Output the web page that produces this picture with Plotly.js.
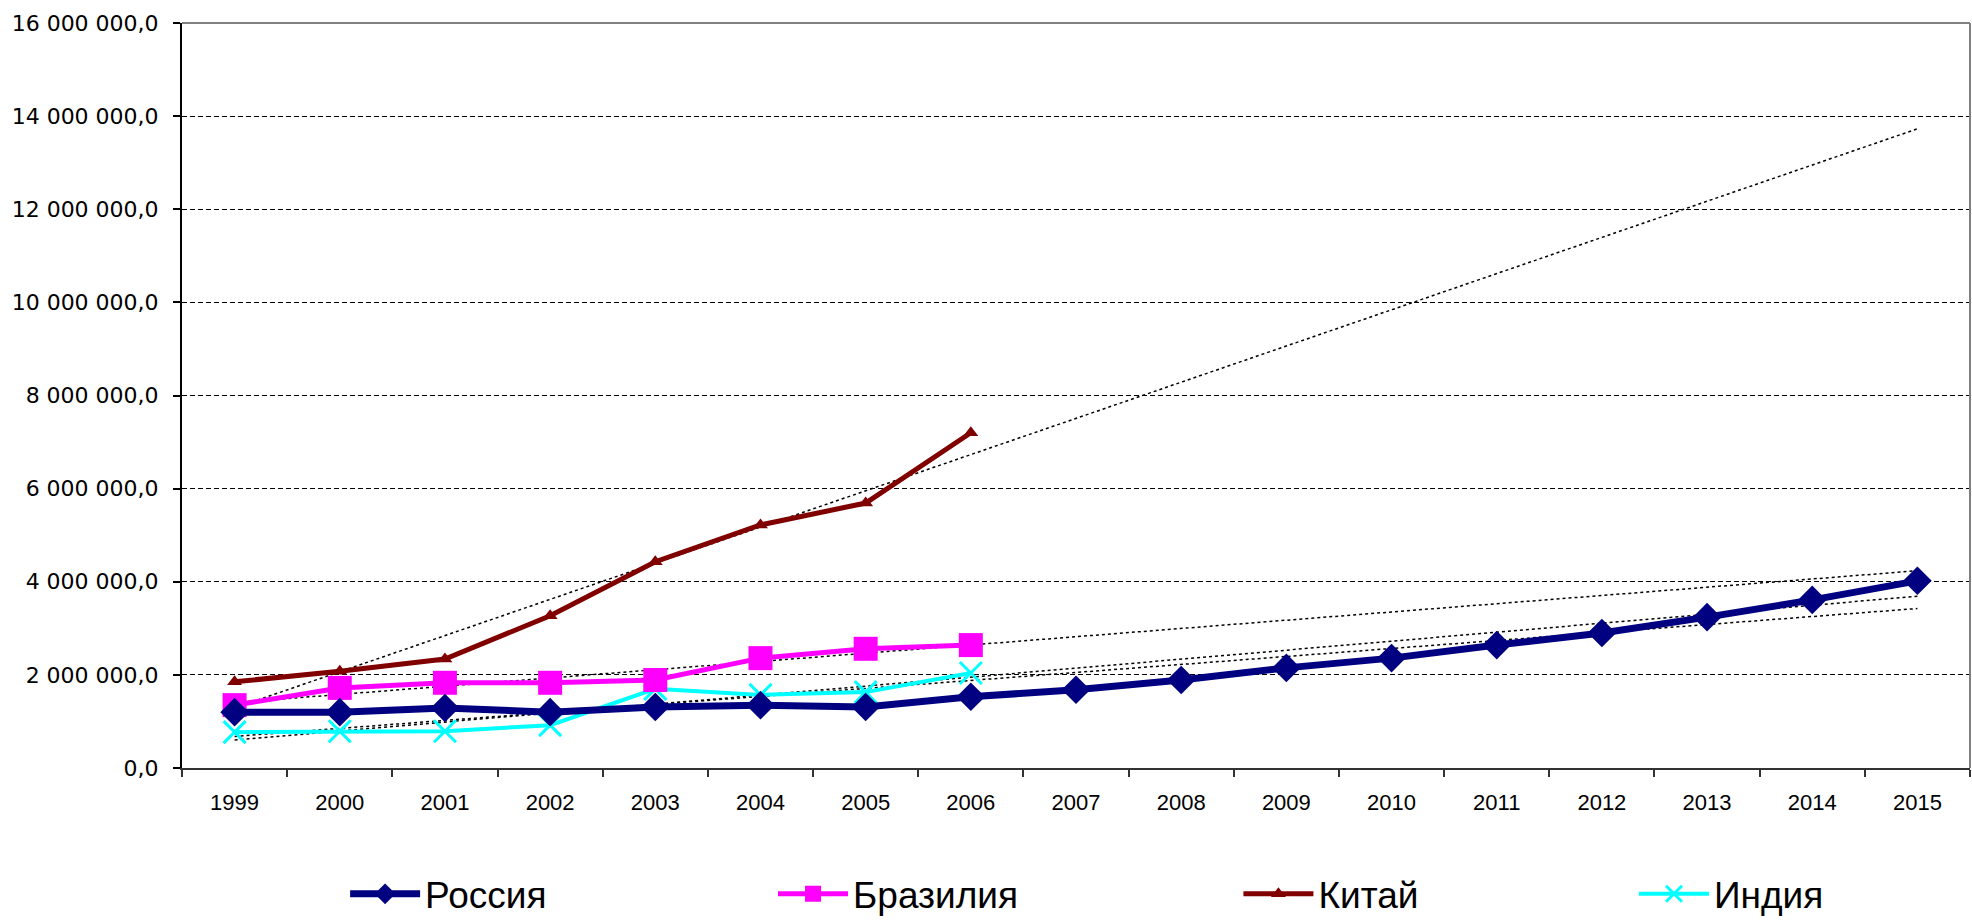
<!DOCTYPE html>
<html>
<head>
<meta charset="utf-8">
<script src="https://cdn.plot.ly/plotly-3.0.1.min.js"></script>
<style>
html,body{margin:0;padding:0;background:#fff;}
#chart{width:1972px;height:920px;}
</style>
</head>
<body>
<div id="chart"></div>
<script>
// ---- data ----
const years = ['1999','2000','2001','2002','2003','2004','2005','2006','2007','2008','2009','2010','2011','2012','2013','2014','2015'];
const russia = [1200000,1200000,1290000,1200000,1310000,1350000,1310000,1530000,1680000,1890000,2150000,2360000,2640000,2900000,3240000,3610000,4020000];
const brazil = [1350000,1720000,1830000,1830000,1890000,2360000,2560000,2640000];
const china  = [1850000,2080000,2340000,3270000,4430000,5220000,5690000,7200000];
const india  = [770000,790000,790000,920000,1700000,1570000,1630000,2040000];
const seriesNames = ['Россия','Бразилия','Китай','Индия'];

// linear trend (least squares) over category index, projected to last year
function trend(vals, n) {
  const m = vals.length;
  let sx = 0, sy = 0, sxx = 0, sxy = 0;
  vals.forEach((v, i) => { sx += i; sy += v; sxx += i * i; sxy += i * v; });
  const b = (m * sxy - sx * sy) / (m * sxx - sx * sx);
  const a = (sy - b * sx) / m;
  const out = [];
  for (let i = 0; i < n; i++) out.push(a + b * i);
  return out;
}

const N = years.length;
const trendStyle = {color: '#000000', width: 1.5, dash: 'dot'};

const traces = [];
[russia, brazil, china, india].forEach(v => {
  traces.push({x: years, y: trend(v, N), type: 'scatter', mode: 'lines',
    line: trendStyle, showlegend: false, hoverinfo: 'skip'});
});

traces.push({x: years.slice(0, india.length), y: india, name: seriesNames[3], type: 'scatter', mode: 'lines+markers',
  line: {color: '#00FFFF', width: 4},
  marker: {symbol: 'x-thin', size: 22, color: '#00FFFF', line: {color: '#00FFFF', width: 3}},
  legend: 'legend4'});
traces.push({x: years.slice(0, brazil.length), y: brazil, name: seriesNames[1], type: 'scatter', mode: 'lines+markers',
  line: {color: '#FF00FF', width: 5},
  marker: {symbol: 'square', size: 24, color: '#FF00FF'},
  legend: 'legend2'});
traces.push({x: years.slice(0, china.length), y: china, name: seriesNames[2], type: 'scatter', mode: 'lines+markers',
  line: {color: '#800000', width: 5},
  marker: {symbol: 'triangle-up', size: 13, color: '#800000'},
  legend: 'legend3'});
traces.push({x: years, y: russia, name: seriesNames[0], type: 'scatter', mode: 'lines+markers',
  line: {color: '#000080', width: 7},
  marker: {symbol: 'diamond', size: 22, color: '#000080'},
  legend: 'legend'});

const legFont = {family: 'Liberation Sans, Arial, sans-serif', size: 37, color: '#000'};
function leg(x) {
  return {x: x, y: 0.028, xref: 'container', yref: 'container', xanchor: 'left', yanchor: 'middle',
    orientation: 'h', font: legFont, bgcolor: 'rgba(0,0,0,0)', borderwidth: 0, itemwidth: 70};
}

const layout = {
  width: 1972, height: 920,
  margin: {l: 182, r: 2, t: 23, b: 152},
  paper_bgcolor: '#fff', plot_bgcolor: '#fff',
  separators: ', ',
  showlegend: true,
  legend: leg(0.175),
  legend2: leg(0.392),
  legend3: leg(0.628),
  legend4: leg(0.8286),
  xaxis: {
    type: 'category', range: [-0.5, 16.5],
    tickson: 'boundaries', ticks: 'outside', ticklen: 7, tickwidth: 2, tickcolor: '#333',
    showline: true, linecolor: '#333', linewidth: 2,
    showgrid: false, zeroline: false,
    tickfont: {family: 'Liberation Sans, Arial, sans-serif', size: 22, color: '#000'},
    ticklabelstandoff: 14
  },
  yaxis: {
    range: [0, 16000000], tickmode: 'linear', tick0: 0, dtick: 2000000,
    tickformat: ',.1f',
    ticks: 'outside', ticklen: 7, tickwidth: 2, tickcolor: '#000',
    showline: true, linecolor: '#000', linewidth: 2,
    showgrid: true, gridcolor: '#000', gridwidth: 1, griddash: '5px,3px',
    zeroline: false,
    tickfont: {family: 'DejaVu Sans, Verdana, sans-serif', size: 22, color: '#000'},
    ticklabelstandoff: 10
  },
  shapes: [
    {type: 'line', xref: 'paper', yref: 'paper', x0: 0, x1: 1, y0: 1, y1: 1, line: {color: '#808080', width: 2}},
    {type: 'line', xref: 'paper', yref: 'paper', x0: 1, x1: 1, y0: 0, y1: 1, line: {color: '#808080', width: 2}}
  ]
};

Plotly.newPlot('chart', traces, layout, {staticPlot: true, displayModeBar: false});
</script>
</body>
</html>
